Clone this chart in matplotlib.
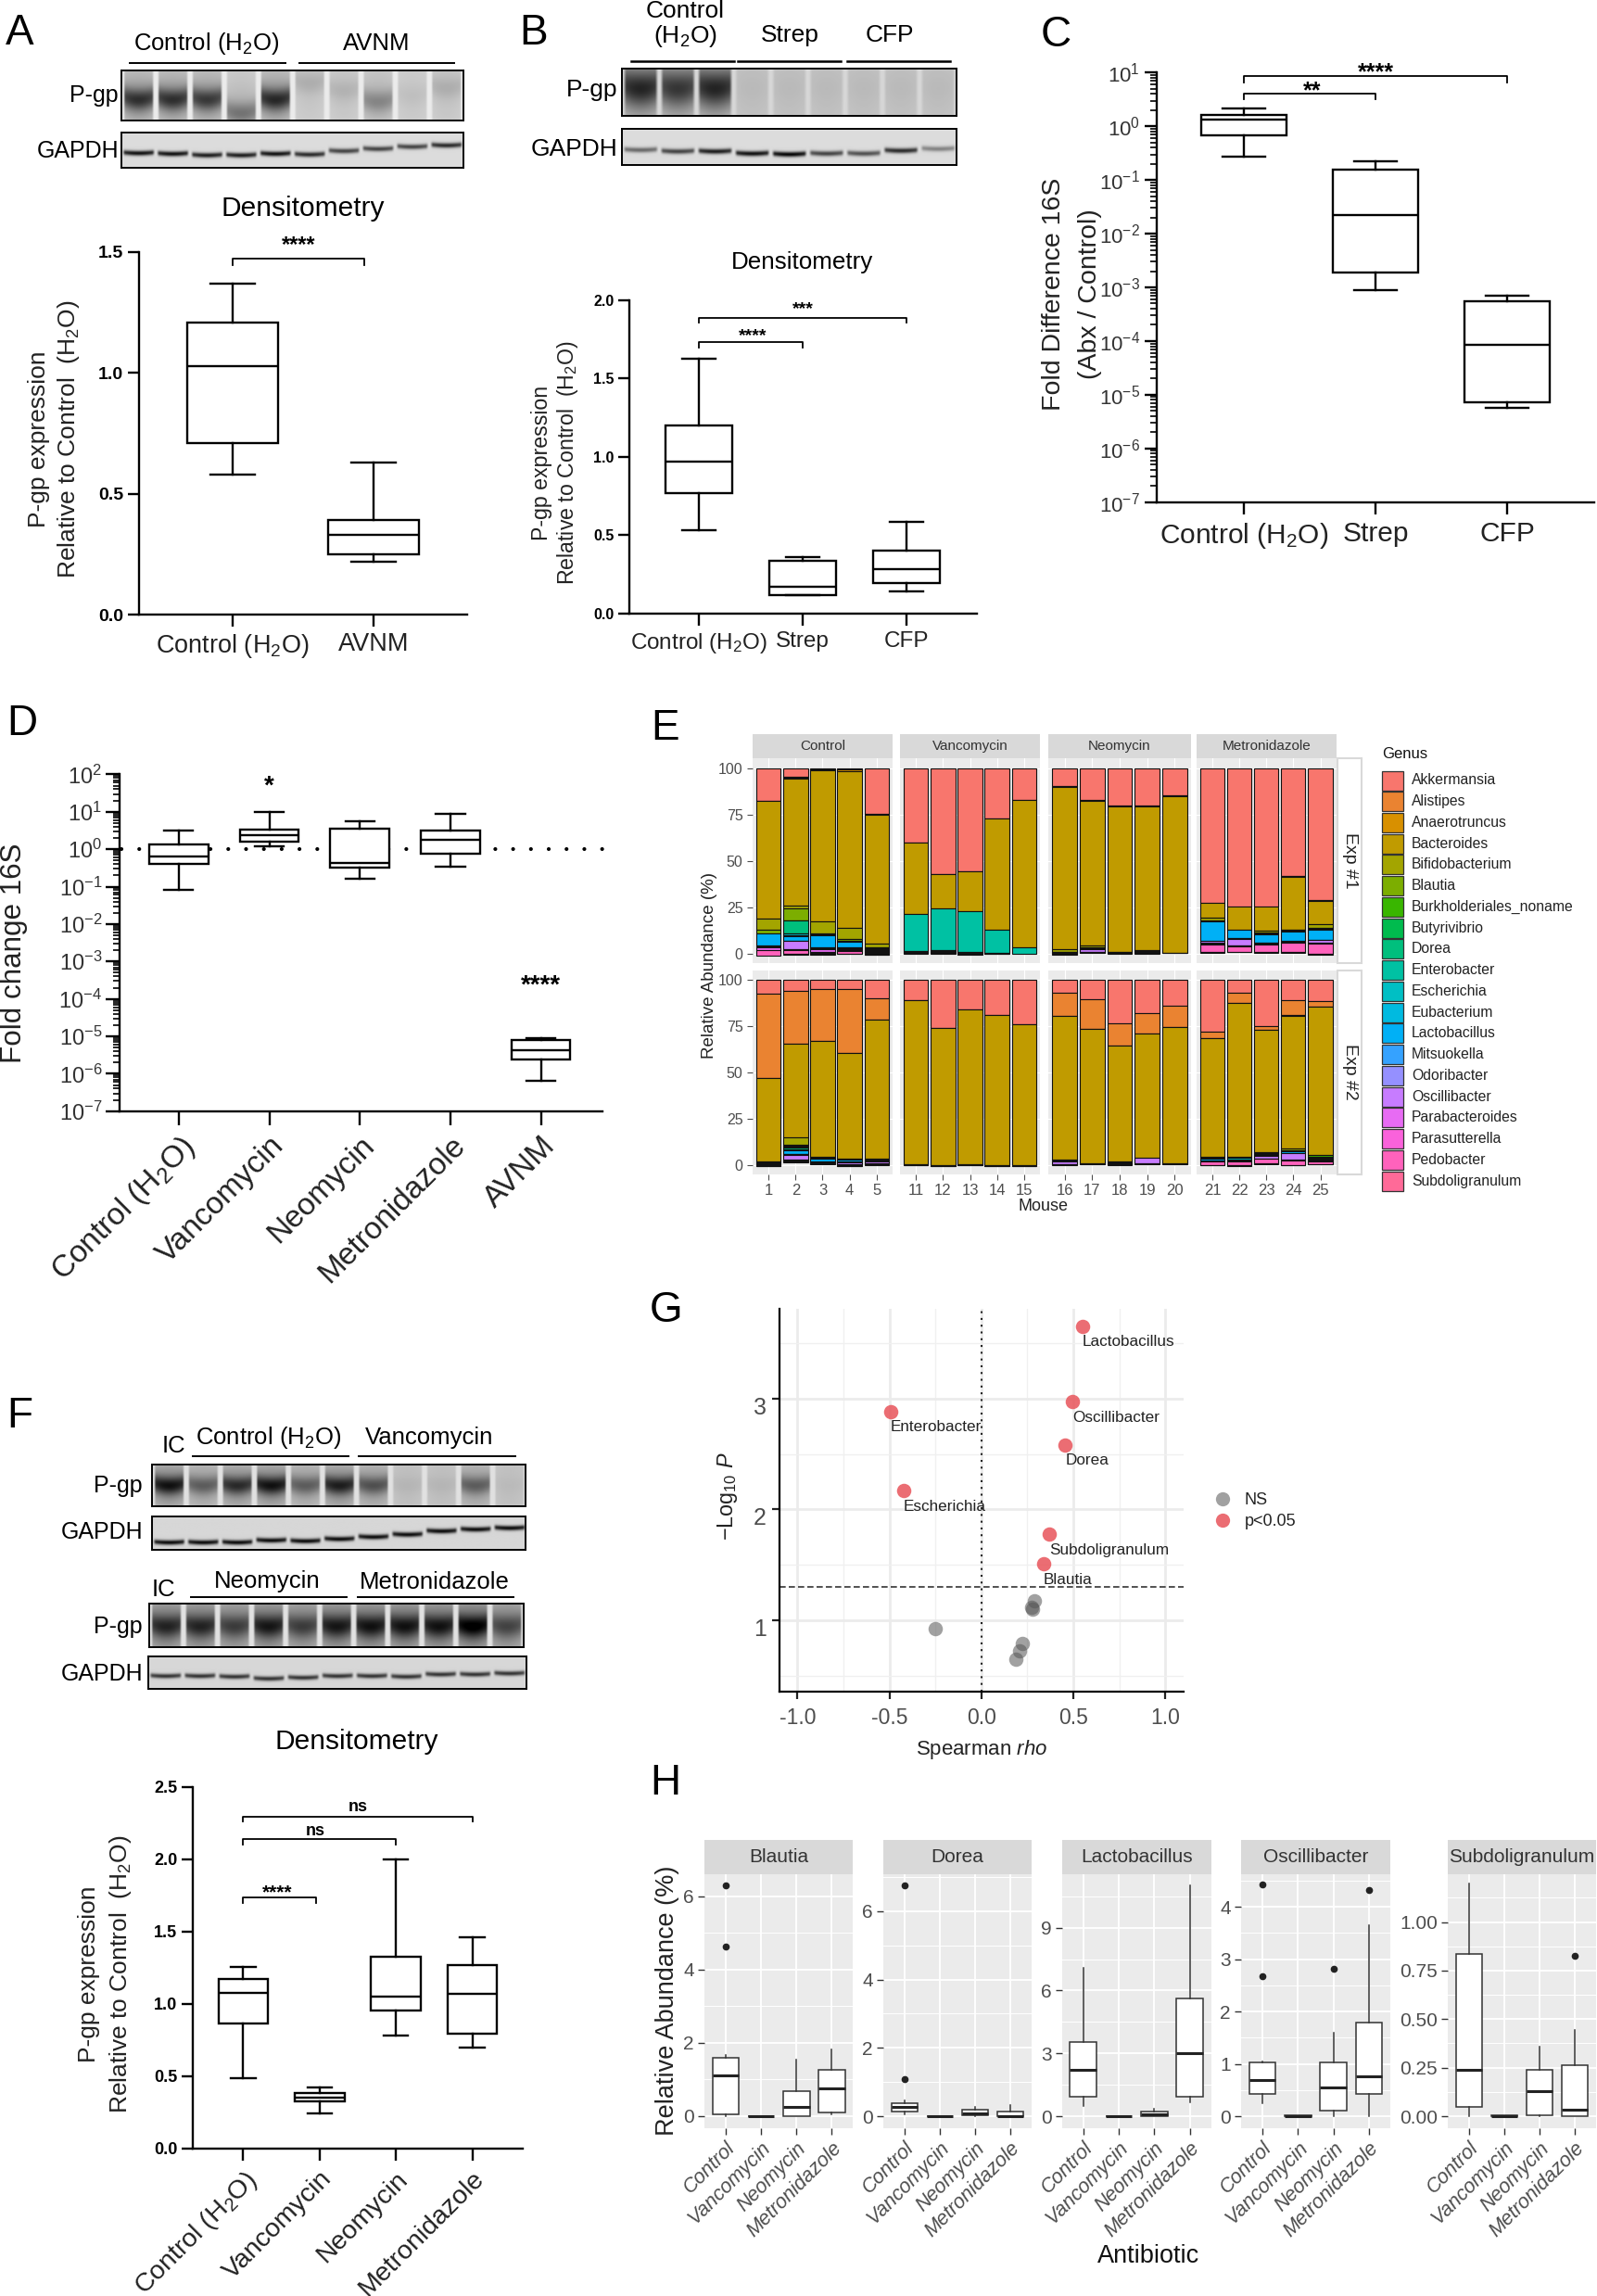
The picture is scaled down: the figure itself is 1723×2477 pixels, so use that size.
import numpy as np
import matplotlib
matplotlib.use("Agg")
import matplotlib.pyplot as plt
from matplotlib.lines import Line2D
from matplotlib.patches import Rectangle
from matplotlib.ticker import LogLocator, NullFormatter, FixedLocator

W, H = 1723, 2477
plt.rcParams['font.family'] = ['Liberation Sans', 'DejaVu Sans']
plt.rcParams['mathtext.fontset'] = 'custom'
plt.rcParams['mathtext.rm'] = 'Liberation Sans'
plt.rcParams['mathtext.it'] = 'Liberation Sans:italic'
plt.rcParams['mathtext.bf'] = 'Liberation Sans:bold'
plt.rcParams['mathtext.default'] = 'regular'

H2O = "Control (H$_2$O)"

# box stats are low whisker, q1, median, q3, high whisker
a_labels = [H2O, "AVNM"]
a_boxes = [[0.58, 0.71, 1.03, 1.21, 1.37], [0.22, 0.25, 0.33, 0.39, 0.63]]
b_labels = [H2O, "Strep", "CFP"]
b_boxes = [[0.53, 0.77, 0.97, 1.20, 1.63], [0.12, 0.12, 0.17, 0.34, 0.36], [0.14, 0.195, 0.285, 0.405, 0.585]]
c_labels = [H2O, "Strep", "CFP"]
c_boxes = [[0.27, 0.667, 1.33, 1.66, 2.14], [8.9e-4, 1.9e-3, 0.022, 0.157, 0.22], [5.6e-6, 7.2e-6, 8.5e-5, 5.4e-4, 7.1e-4]]
d_labels = [H2O, "Vancomycin", "Neomycin", "Metronidazole", "AVNM"]
d_boxes = [[0.083, 0.40, 0.65, 1.34, 3.2], [1.22, 1.55, 2.4, 3.25, 10], [0.159, 0.32, 0.417, 3.57, 5.6],
           [0.347, 0.75, 1.78, 3.1, 8.65], [6.6e-7, 2.45e-6, 4.2e-6, 8.2e-6, 9.1e-6]]
f_labels = [H2O, "Vancomycin", "Neomycin", "Metronidazole"]
f_boxes = [[0.49, 0.868, 1.08, 1.17, 1.256], [0.244, 0.328, 0.352, 0.384, 0.424],
           [0.784, 0.956, 1.052, 1.324, 2.0], [0.696, 0.792, 1.068, 1.272, 1.464]]

# panel E, 20 mice of exp 1 then 20 mice of exp 2
genera = ["Akkermansia", "Alistipes", "Anaerotruncus", "Bacteroides", "Bifidobacterium", "Blautia",
          "Burkholderiales_noname", "Butyrivibrio", "Dorea", "Enterobacter", "Escherichia", "Eubacterium",
          "Lactobacillus", "Mitsuokella", "Odoribacter", "Oscillibacter", "Parabacteroides", "Parasutterella",
          "Pedobacter", "Subdoligranulum"]
genus_colors = ["#F8766D", "#EA8331", "#D89000", "#C09B00", "#A3A500", "#7CAE00", "#39B600", "#00BB4E", "#00BF7D",
                "#00C1A3", "#00BFC4", "#00BAE0", "#00B0F6", "#35A2FF", "#9590FF", "#C77CFF", "#E76BF3", "#FA62DB",
                "#FF62BC", "#FF6A98"]
mouse_ids = [[1, 2, 3, 4, 5], [11, 12, 13, 14, 15], [16, 17, 18, 19, 20], [21, 22, 23, 24, 25]]
treatments = ["Control", "Vancomycin", "Neomycin", "Metronidazole"]
akkermansia = [17.5, 4.5, .5, .5, 24.5, 40, 57, 55.5, 27, 17, 9.5, 17, 20, 20, 14.5, 72.5, 74.5, 74.5, 58, 71,
               7.5, 6, 5, 5, 10, 11, 26, 16, 19, 24, 7, 10.5, 23.5, 18, 14, 28, 7, 25, 11, 11.5]
alistipes = [0, .3, 0, 0, 0, 0, 0, 0, 0, 0, 0, 0, 0, 0, 0, 0, 0, 0, 0, 0,
             45.5, 28.5, 28, 34.5, 11.5, 0, 0, 0, 0, 0, 12.5, 16, 12, 11, 11.5, 3.5, 5.5, 2, 8, 3]
anaerotruncus = [.2, .6, .5, .8, .3, .2, .2, .2, .2, .2, .3, .3, .3, .3, .3, 0, 0, 0, .3, .5,
                 .2, .2, .2, .2, .2, .2, .2, .2, .2, .2, .2, .2, .2, .2, .2, .2, .2, .2, .5, .2]
bacteroides = [63.5, 68.5, 81.5, 84.5, 69.5, 38.5, 18.5, 21.5, 60, 79.5, 87.5, 78, 78.5, 77.5, 84.5, 8, 12.5, 13, 28.5, 12.5,
               45, 50.5, 62.5, 57, 75, 88.5, 74, 83.5, 81, 76, 77.5, 72.5, 62.5, 67, 73.5, 64, 83, 66, 71.5, 80]
bifidobacterium = [6, 1.5, 6.5, 6, 2, 0, 0, 0, 0, 0, 1.5, 1, 0, 0, 0, 1.5, 0, 1, 0, 2,
                   0, 4, .5, .5, .3, 0, 0, 0, 0, 0, 0, 0, 0, 0, 0, 0, .5, 0, 1, 0]
blautia = [2, 6.5, 0, 1, .5, 0, 0, 0, 0, 0, 0, .5, 0, 0, 0, .5, 0, 0, 0, .5,
           0, .5, 0, 0, 0, 0, 0, 0, 0, 0, 0, 0, 0, 0, 0, 0, 0, 0, .3, 0]
burkholderiales = [0, .3, .3, .3, .3, 0, 0, 0, 0, 0, 0, 0, 0, 0, 0, 0, 0, .3, .3, 0,
                   0, .3, 0, 0, 0, 0, 0, 0, 0, 0, 0, 0, 0, 0, 0, 0, 0, .4, 0, .6]
butyrivibrio = [0, 0, .4, 0, .3, 0, 0, 0, 0, 0, 0, 0, 0, 0, 0, 0, 0, .3, .4, 0,
                0, .3, 0, 0, 0, 0, 0, 0, 0, 0, 0, 0, 0, 0, 0, .4, 0, .4, 0, .6]
dorea = [0, 7, 0, 0, 0, 0, 0, 0, 0, 0, 0, 0, 0, 0, 0, 0, 0, 0, 0, 0,
         0, 1, 0, 0, 0, 0, 0, 0, 0, 0, 0, 0, 0, 0, 0, 0, 0, 0, 0, 0]
enterobacter = [0, 0, 0, 0, 0, 20, 22.5, 22, 12.5, 3.5, 0, 0, 0, 0, 0, 0, 0, 0, 0, 0,
                0, 0, 0, 0, 0, 0, 0, 0, 0, 0, 0, 0, 0, 0, 0, 0, 0, 0, 0, 0]
escherichia = [0, .8, 0, 0, 0, 0, 0, 0, 0, 0, 0, 0, 0, 0, 0, 0, 0, 0, 0, .2,
               0, .3, .3, 0, .3, 0, 0, 0, 0, 0, 0, 0, 0, 0, 0, 0, .6, 0, .4, 0]
eubacterium = [0, .4, .4, .4, .3, 0, 0, 0, 0, 0, 0, 0, 0, 0, 0, 0, 0, .3, .3, .2,
               0, .3, 0, 0, 0, 0, 0, 0, 0, 0, 0, 0, 0, 0, 0, .4, 0, .3, 0, .6]
lactobacillus = [6.5, 2.5, 6.5, 3, .5, 0, 0, 0, 0, 0, 0, 0, 0, 0, 0, 10.5, 4.5, 4.5, 5, 5.5,
                 .3, 2, 1.5, 1, .5, 0, 0, 0, 0, 0, 0, 0, 0, 0, 0, 1, .7, .5, 1, .5]
mitsuokella = [0, .3, .3, .3, .3, .3, .5, .3, 0, 0, .3, .3, .3, .5, .2, 0, .3, .2, 0, .3,
               .3, .3, .3, .3, 0, 0, 0, 0, 0, 0, .4, 0, .4, 0, 0, 0, 0, 0, 0, .3]
odoribacter = [.2, 0, .3, .3, .3, .4, .5, .3, 0, 0, .3, .3, .3, .5, 0, 0, 0, .2, 0, 0,
               .3, .4, .3, .2, 0, 0, 0, 0, 0, 0, .3, 0, .4, 0, 0, 0, 0, 0, 0, .3]
oscillibacter = [.5, 4.5, .5, .5, .3, 0, 0, 0, 0, 0, .3, 1.5, 0, 0, 0, 1, 3.5, .3, .5, 1.5,
                 .5, 2.5, .3, 1, 1, 0, 0, 0, 0, 0, 1.5, 0, 0, 3, 0, 0, .3, 1.5, 3.5, 0]
parabacteroides = [1.5, .3, 1.5, .5, .5, 0, 0, 0, 0, 0, .3, .3, 0, 0, 0, .5, .3, .3, .5, .3,
                   .3, .3, 0, .3, .5, 0, 0, 0, 0, 0, 0, 0, 0, 0, 0, 0, 0, 0, 0, 0]
parasutterella = [0, .2, .3, .3, .3, .3, .5, .3, .3, 0, .2, .2, .3, .5, 0, .4, .3, .3, .3, .2,
                  .3, .3, .3, .3, .3, .3, .3, .3, .2, .2, .3, .3, .5, .3, .3, .3, .3, .3, .3, .3]
pedobacter = [3, 2, .5, 1.5, .5, 0, 0, 0, 0, 0, 0, 0, 0, 0, 0, 4, 3, 4, 5, 5.5,
              .3, .3, 0, 0, 0, 0, 0, 0, 0, 0, 0, 0, 0, 0, 0, 2, 2, 2.5, 2.5, 1.5]
subdoligranulum = [0, .3, .3, .2, .3, .2, .3, .3, .2, 0, .2, .2, .3, .5, .2, .5, .3, .2, .2, .2,
                   .2, .3, .3, .3, .3, .2, .2, .2, .2, .2, .3, .2, .5, .2, .2, .2, .2, .2, .2, .2]
genus_values = [akkermansia, alistipes, anaerotruncus, bacteroides, bifidobacterium, blautia, burkholderiales,
                butyrivibrio, dorea, enterobacter, escherichia, eubacterium, lactobacillus, mitsuokella, odoribacter,
                oscillibacter, parabacteroides, parasutterella, pedobacter, subdoligranulum]

# panel G
sig_names = ["Lactobacillus", "Oscillibacter", "Enterobacter", "Dorea", "Escherichia", "Subdoligranulum", "Blautia"]
sig_rho = [0.549, 0.496, -0.493, 0.456, -0.423, 0.371, 0.338]
sig_logp = [3.655, 2.971, 2.885, 2.584, 2.172, 1.779, 1.511]
ns_rho = [0.288, 0.278, 0.275, -0.249, 0.222, 0.209, 0.19]
ns_logp = [1.179, 1.098, 1.113, 0.925, 0.795, 0.726, 0.645]

# panel H, each box is low whisker, q1, median, q3, high whisker
h_groups = ["Control", "Vancomycin", "Neomycin", "Metronidazole"]
h_titles = ["Blautia", "Dorea", "Lactobacillus", "Oscillibacter", "Subdoligranulum"]
blautia_boxes = [[0.0, 0.05, 1.10, 1.60, 1.68], [0, 0, 0, 0.01, 0.01], [0, 0, 0.25, 0.69, 1.54], [0.05, 0.09, 0.77, 1.26, 1.82]]
blautia_out = [[6.29, 4.62], [], [], []]
dorea_boxes = [[0.05, 0.13, 0.27, 0.37, 0.45], [0, 0, 0, 0.01, 0.01], [0, 0.02, 0.09, 0.19, 0.28], [0, 0, 0.01, 0.15, 0.34]]
dorea_out = [[6.75, 1.08], [], [], []]
lacto_boxes = [[0.49, 0.95, 2.22, 3.54, 7.1], [0, 0, 0, 0.02, 0.02], [0, 0.02, 0.11, 0.23, 0.36], [0.69, 0.95, 3.0, 5.63, 11.0]]
lacto_out = [[], [], [], []]
oscilli_boxes = [[0.25, 0.43, 0.69, 1.03, 1.05], [0, 0, 0, 0.01, 0.01], [0, 0.11, 0.54, 1.03, 1.59], [0, 0.43, 0.77, 1.79, 3.64]]
oscilli_out = [[4.42, 2.68], [], [2.82], [4.32]]
subdo_boxes = [[0, 0.05, 0.24, 0.837, 1.198], [0, 0, 0, 0.004, 0.004], [0, 0.005, 0.127, 0.237, 0.358], [0, 0, 0.035, 0.265, 0.446]]
subdo_out = [[], [], [], [0.828]]
h_boxes = [blautia_boxes, dorea_boxes, lacto_boxes, oscilli_boxes, subdo_boxes]
h_out = [blautia_out, dorea_out, lacto_out, oscilli_out, subdo_out]
h_ticks = [[0, 2, 4, 6], [0, 2, 4, 6], [0, 3, 6, 9], [0, 1, 2, 3, 4], [0, 0.25, 0.5, 0.75, 1.0]]
h_ticklabels = [["0", "2", "4", "6"], ["0", "2", "4", "6"], ["0", "3", "6", "9"], ["0", "1", "2", "3", "4"],
                ["0.00", "0.25", "0.50", "0.75", "1.00"]]

# band strength per lane on the blots
a_pgp = [.62, .62, .58, .35, .65, .12, .1, .28, .05, .12]
a_pgp_y = [.58, .58, .58, .85, .58, .25, .4, .62, .5, .35]
a_gapdh = [.8, .8, .75, .75, .8, .7, .6, .6, .6, .7]
a_gapdh_y = [.58, .6, .64, .64, .6, .62, .52, .46, .4, .36]
b_pgp = [.62, .55, .62, .03, .03, .03, .03, .03, .03]
b_gapdh = [.45, .6, .75, .8, .85, .6, .55, .7, .35]
b_gapdh_y = [.58, .62, .62, .68, .7, .68, .68, .6, .55]
f1_pgp = [.7, .4, .6, .7, .4, .65, .45, .05, .05, .4, .03]
f1_gapdh_y = [.78, .78, .78, .72, .74, .68, .62, .55, .45, .4, .36]
f2_pgp = [.55, .55, .45, .6, .45, .6, .62, .62, .62, .72, .42]
f2_gapdh_y = [.6, .6, .62, .68, .65, .6, .6, .62, .55, .55, .52]


fig = plt.figure(figsize=(W / 100, H / 100), dpi=100, facecolor='white')


def add_ax(l, t, r, b):
    return fig.add_axes([l / W, 1 - b / H, (r - l) / W, (b - t) / H])


def ptext(x, y, s, size=18, ha='center', va='center', **kw):
    return fig.text(x / W, 1 - y / H, s, fontsize=size, ha=ha, va=va, **kw)


def pline(x0, x1, y, lw=1.4):
    fig.add_artist(Line2D([x0 / W, x1 / W], [1 - y / H, 1 - y / H], color='black', lw=lw))


def make_stats(rows, fliers=None):
    stats = []
    for i, r in enumerate(rows):
        stats.append(dict(whislo=r[0], q1=r[1], med=r[2], q3=r[3], whishi=r[4],
                          fliers=[] if fliers is None else fliers[i]))
    return stats


def prism_box(rect, boxes, labels, c0, step, ylim, yticks=None, ytickfmt=None, log=False, tick_size=14,
              label_size=19, rotate=False, tick_len=9, weight='bold'):
    l, t, r, b = rect
    ax = add_ax(l, t, r, b)
    ax.patch.set_alpha(0)
    if log:
        ax.set_yscale('log')
    pos = np.arange(1, len(boxes) + 1)
    ax.bxp(make_stats(boxes), positions=pos, widths=0.65, capwidths=0.32, showfliers=False, patch_artist=True,
           manage_ticks=False, zorder=3,
           boxprops=dict(facecolor='white', edgecolor='black', linewidth=1.7),
           medianprops=dict(color='black', linewidth=1.7),
           whiskerprops=dict(color='black', linewidth=1.7),
           capprops=dict(color='black', linewidth=1.7))
    ax.set_xlim(1 + (l - c0) / step, 1 + (r - c0) / step)
    ax.set_ylim(*ylim)
    for s in ['top', 'right']:
        ax.spines[s].set_visible(False)
    for s in ['left', 'bottom']:
        ax.spines[s].set_linewidth(1.7)
    ax.set_xticks(pos)
    if rotate:
        ax.set_xticklabels(labels, rotation=45, ha='right', rotation_mode='anchor', fontsize=label_size, color='#222222')
    else:
        ax.set_xticklabels(labels, fontsize=label_size, color='#222222')
    ax.tick_params(axis='x', length=tick_len, width=1.7, pad=5)
    ax.tick_params(axis='y', which='major', length=tick_len, width=1.7, pad=3)
    if log:
        exps = range(int(np.log10(ylim[0])), int(np.log10(ylim[1])) + 1)
        ax.yaxis.set_major_locator(FixedLocator([10.0 ** e for e in exps]))
        ax.set_yticklabels(["10$^{%d}$" % e for e in exps], fontsize=tick_size, color='#333333')
        ax.yaxis.set_minor_locator(LogLocator(base=10, subs=range(2, 10), numticks=20))
        ax.yaxis.set_minor_formatter(NullFormatter())
        ax.tick_params(axis='y', which='minor', length=tick_len * 0.5, width=1.2)
    else:
        ax.set_yticks(yticks)
        ax.set_yticklabels([ytickfmt % v for v in yticks], fontsize=tick_size, fontweight=weight)
    return ax


def bracket(ax, x0, x1, y, tip, text, text_y, size=17, text_x=None, weight='bold'):
    ax.plot([x0, x0, x1, x1], [tip, y, y, tip], color='black', lw=1.3, clip_on=False, zorder=4)
    mid = (x0 + x1) / 2 if text_x is None else text_x
    star_drop = 0.4 * size if '*' in text else 0.3 * size
    ax.annotate(text, (mid, text_y), xytext=(0, -star_drop), textcoords='offset points', ha='center',
                va='baseline', fontsize=size, fontweight=weight, annotation_clip=False)


def blot(rect, strengths, bands, sigma=0.2, shade=0.12, gap=0.1, base=0.92, edge=0.06, wide=0.3, smile=0.08):
    l, t, r, b = rect
    ax = add_ax(l, t, r, b)
    n = len(strengths)
    w, h = int(r - l) * 2, int(b - t) * 2
    yy, xx = np.mgrid[0:h, 0:w]
    u = xx / w * n
    v = yy / h
    lane = np.minimum(u.astype(int), n - 1)
    frac = u - lane
    side = (2 * frac - 1) ** 2
    prof = np.clip((np.minimum(frac, 1 - frac) - gap / 2) / edge, 0, 1) * (1 - 0.2 * side)
    s = np.array(strengths)[lane]
    c = np.array(bands)[lane] - smile * side
    main = np.exp(-(v - c) ** 2 / (2 * sigma ** 2))
    smear = np.exp(-(v - c) ** 2 / (2 * 0.42 ** 2))
    img = base - prof * (shade + s * ((1 - wide) * main + wide * smear))
    ax.imshow(img, cmap='gray', vmin=0, vmax=1, aspect='auto', interpolation='bilinear')
    ax.set_xticks([])
    ax.set_yticks([])
    for sp in ax.spines.values():
        sp.set_linewidth(1.4)
    return ax


def gapdh(rect, strengths, bands, base=0.86):
    return blot(rect, strengths, bands, sigma=0.05, shade=0, gap=0.04, base=base, edge=0.08, wide=0, smile=0.03)


def y2label(x0, x1, yc, size):
    ptext(x0, yc, "P-gp expression", size=size, rotation=90, color='#222222')
    ptext(x1, yc, "Relative to Control  (H$_2$O)", size=size, rotation=90, color='#222222')


# panel letters
for letter, x, y in [("A", 21, 36), ("B", 576, 36), ("C", 1139, 38), ("D", 24, 781), ("E", 718, 786),
                     ("F", 21, 1528), ("G", 719, 1414), ("H", 718, 1924)]:
    ptext(x, y, letter, size=33)

# A
ptext(223, 47, H2O, size=18.5)
ptext(406, 47, "AVNM", size=18.5)
pline(140, 308, 68)
pline(323, 490, 68)
blot((131, 76, 500, 130), a_pgp, a_pgp_y, sigma=0.15, gap=0.1)
gapdh((131, 143, 500, 181), a_gapdh, a_gapdh_y)
ptext(128, 103, "P-gp", size=18, ha='right')
ptext(128, 163, "GAPDH", size=18, ha='right')
ptext(327, 225, "Densitometry", size=21.5)
ax = prism_box((150, 272, 504, 663), a_boxes, a_labels, 251, 152, (0, 1.5), [0, .5, 1, 1.5], "%.1f", label_size=19.5)
bracket(ax, 1, 1.935, 1.472, 1.447, "****", 1.54)
y2label(42, 74, 474, 19)

# B
ptext(739, 12, "Control", size=19)
ptext(739, 39, "(H$_2$O)", size=19)
ptext(852, 38, "Strep", size=19)
ptext(960, 38, "CFP", size=19)
pline(681, 792, 66, 1.8)
pline(796, 907, 66, 1.8)
pline(914, 1025, 66, 1.8)
blot((671, 74, 1032, 125), b_pgp, [.42] * 9, sigma=0.24, shade=0.08, gap=0.06, base=0.84, edge=0.08, wide=0.5)
gapdh((671, 139, 1032, 178), b_gapdh, b_gapdh_y)
ptext(666, 97, "P-gp", size=19, ha='right')
ptext(666, 161, "GAPDH", size=19, ha='right')
ptext(866, 283, "Densitometry", size=18.7)
ax = prism_box((679, 324, 1054, 662), b_boxes, b_labels, 754, 112, (0, 2), [0, .5, 1, 1.5, 2], "%.1f", tick_size=11.5, label_size=17.5)
bracket(ax, 1, 3, 1.888, 1.858, "***", 1.96, size=14)
bracket(ax, 1, 2, 1.733, 1.70, "****", 1.79, size=14, text_x=1.52)
y2label(585, 613, 499, 16.7)

# C
ax = prism_box((1247.5, 78.4, 1720, 541.6), c_boxes, c_labels, 1342, 142, (1e-7, 10), log=True, tick_size=16,
               label_size=21.5, tick_len=9.5)
bracket(ax, 1, 3, 8.5, 6.5, "****", 11.5, size=18)
bracket(ax, 1, 2, 4.14, 3.2, "**", 5.2, size=18, text_x=1.52)
ptext(1137, 317, "Fold Difference 16S", size=20.5, rotation=90, color='#222222')
ptext(1176, 317, "(Abx / Control)", size=20.5, rotation=90, color='#222222')

# D
ax = prism_box((129, 835.4, 650, 1198.8), d_boxes, d_labels, 192.8, 97.7, (1e-7, 100), log=True, tick_size=17,
               label_size=24, rotate=True, tick_len=10.5)
dots, = ax.plot([0.37, 5.7], [1, 1], color='black', lw=3, ls=(0, (0.01, 4.6)), zorder=1, clip_on=False)
dots.set_dash_capstyle('round')
ax.annotate("*", (2, 10 ** 1.77), xytext=(0, -8), textcoords='offset points', ha='center', va='baseline',
            fontsize=20, fontweight='bold')
ax.annotate("****", (5, 10 ** -3.55), xytext=(0, -8), textcoords='offset points', ha='center', va='baseline',
            fontsize=20, fontweight='bold')
ptext(15, 1028, "Fold change 16S", size=22.6, rotation=90, color='#222222')

# E
e_cols = [(812, 963), (971, 1122), (1131, 1285), (1290.5, 1442)]
e_rows = [(818, 1039), (1046.5, 1266.5)]
e_ylims = [(-5, 105.5), (-4.75, 105.25)]
for i, (l, r) in enumerate(e_cols):
    st = add_ax(l, 792, r, 817.6)
    st.set_facecolor('#D9D9D9')
    st.set_xticks([])
    st.set_yticks([])
    for sp in st.spines.values():
        sp.set_visible(False)
    st.text(0.5, 0.5, treatments[i], transform=st.transAxes, ha='center', va='center', fontsize=11, color='#333333')
    for k, (t, b) in enumerate(e_rows):
        ax = add_ax(l, t, r, b)
        ax.set_facecolor('#EBEBEB')
        for sp in ax.spines.values():
            sp.set_visible(False)
        ax.set_axisbelow(True)
        ax.grid(True, color='white', lw=0.8)
        x = np.arange(1, 6)
        start = k * 20 + i * 5
        top = np.full(5, 100.0)
        for name_i, vals in enumerate(genus_values):
            v = np.array(vals[start:start + 5], dtype=float)
            keep = v > 0
            top = top - v
            ax.bar(x[keep], v[keep], bottom=top[keep], width=0.9, color=genus_colors[name_i], edgecolor='#111111', lw=0.8)
        ax.set_xlim(0.4, 5.6)
        ax.set_ylim(*e_ylims[k])
        ax.set_yticks([0, 25, 50, 75, 100])
        ax.set_xticks(x)
        ax.tick_params(colors='#4D4D4D', length=4, width=0.8, labelsize=11.5)
        if k == 1:
            ax.set_xticklabels([str(m) for m in mouse_ids[i]], fontsize=12)
        else:
            ax.tick_params(axis='x', length=0, labelbottom=False)
        if i > 0:
            ax.tick_params(axis='y', length=0, labelleft=False)
for (t, b), label in zip(e_rows, ["Exp #1", "Exp #2"]):
    fig.add_artist(Rectangle((1443 / W, 1 - b / H), 26 / W, (b - t) / H, transform=fig.transFigure, facecolor='white',
                             edgecolor='#D9D9D9', lw=1.5))
    ptext(1456, (t + b) / 2, label, size=14, rotation=-90, color='#222222')
ptext(765, 1042, "Relative Abundance (%)", size=13.5, rotation=90, color='#222222')
ptext(1126, 1301, "Mouse", size=13, color='#222222')
ptext(1491, 813, "Genus", size=12, ha='left', color='#111111')
for i, name in enumerate(genera):
    yc = 842 + i * 22.74
    fig.add_artist(Rectangle((1491 / W, 1 - (yc + 10.5) / H), 23 / W, 21 / H, transform=fig.transFigure,
                             facecolor=genus_colors[i], edgecolor='#333333', lw=0.9))
    ptext(1523, yc, name, size=11.3, ha='left', color='#222222')

# F
ptext(187, 1560, "IC", size=18.5)
ptext(290, 1551, H2O, size=18.5)
ptext(463, 1551, "Vancomycin", size=18.5)
pline(208, 376, 1571)
pline(387, 556, 1571)
blot((163.5, 1580, 567, 1625), f1_pgp, [.5] * 11, sigma=0.15, gap=0.1, base=0.88)
gapdh((163.5, 1636, 567, 1672), [.8] * 11, f1_gapdh_y, base=0.84)
ptext(154, 1603, "P-gp", size=18, ha='right')
ptext(154, 1653, "GAPDH", size=18, ha='right')
ptext(176.5, 1715, "IC", size=18.5)
ptext(288, 1706.5, "Neomycin", size=18.5)
ptext(469, 1706.5, "Metronidazole", size=18.5)
pline(206, 374, 1723)
pline(386, 554, 1723)
blot((161, 1730, 565, 1777), f2_pgp, [.52] * 11, sigma=0.18, shade=0.2, gap=0.1, base=0.88)
gapdh((160, 1787, 568, 1822), [.65] * 11, f2_gapdh_y, base=0.84)
ptext(154, 1755, "P-gp", size=18, ha='right')
ptext(154, 1806, "GAPDH", size=18, ha='right')
ptext(385, 1879, "Densitometry", size=21.5)
ax = prism_box((208, 1928, 564, 2318), f_boxes, f_labels, 262.4, 82.4, (0, 2.5), [0, .5, 1, 1.5, 2, 2.5], "%.1f",
               tick_size=13, label_size=20.5, rotate=True, tick_len=9)
bracket(ax, 1, 4, 2.292, 2.26, "ns", 2.365, size=13)
bracket(ax, 1, 3, 2.144, 2.104, "ns", 2.204, size=13, text_x=1.95)
bracket(ax, 1, 1.95, 1.736, 1.696, "****", 1.79, size=15, text_x=1.45)
y2label(96, 130, 2130, 19)

# G
ax = add_ax(840.5, 1412, 1277, 1825)
ax.set_xlim(-1.10, 1.10)
ax.set_ylim(0.356, 3.81)
for s in ['top', 'right']:
    ax.spines[s].set_visible(False)
for s in ['left', 'bottom']:
    ax.spines[s].set_linewidth(1.6)
ax.set_axisbelow(True)
ax.set_xticks([-1, -.5, 0, .5, 1])
ax.set_xticklabels(["-1.0", "-0.5", "0.0", "0.5", "1.0"], fontsize=16.5, color='#4D4D4D')
ax.set_yticks([1, 2, 3])
ax.set_yticklabels([])
# the reference has these labels sitting a little under their ticks
for v in [1, 2, 3]:
    ax.annotate(str(v), (-1.10, v), xytext=(-10, -7), textcoords='offset points', ha='right', va='center',
                fontsize=18, color='#4D4D4D', annotation_clip=False)
ax.set_xticks([-.75, -.25, .25, .75], minor=True)
ax.set_yticks([.5, 1.5, 2.5, 3.5], minor=True)
ax.grid(True, which='major', color='#EBEBEB', lw=2)
ax.grid(True, which='minor', color='#F0F0F0', lw=1)
ax.tick_params(which='minor', length=0)
ax.tick_params(which='major', length=6, width=1.6, color='#222222', pad=6)
ax.axvline(0, color='#222222', lw=1.5, ls=(0, (1, 2.5)))
ax.axhline(1.3, color='#333333', lw=1.2, ls=(0, (4, 2)))
ax.scatter(ns_rho, ns_logp, s=125, color='#555555', alpha=0.55, linewidths=0, zorder=3)
ax.scatter(sig_rho, sig_logp, s=125, color='#E8545A', alpha=0.85, linewidths=0, zorder=3)
for name, rx, py in zip(sig_names, sig_rho, sig_logp):
    ax.annotate(name, (rx, py), xytext=(0, -12.5), textcoords='offset points', ha='left', va='center', fontsize=12.3,
                color='#222222', annotation_clip=False)
ptext(1059, 1887, "Spearman $\\mathit{rho}$", size=16, color='#222222')
ptext(785, 1614, "$-$Log$_{10}$ $\\mathbf{\\mathit{P}}$", size=16.8, rotation=90, color='#222222')
handles = [Line2D([], [], marker='o', ls='', ms=11, mew=0, color='#555555', alpha=0.55, label="NS"),
           Line2D([], [], marker='o', ls='', ms=11, mew=0, color='#E8545A', alpha=0.85, label="p<0.05")]
fig.legend(handles=handles, loc='upper left', bbox_to_anchor=(1292 / W, 1 - 1601 / H), frameon=False, fontsize=13,
           handletextpad=0.3, labelspacing=0.35, borderpad=0, labelcolor='#222222')

# H
h_rects = [(760, 920.4), (953, 1113), (1145.5, 1306.7), (1339, 1500), (1562, 1722)]
h_ylims = [(-0.33, 6.6), (-0.35, 7.08), (-0.57, 11.55), (-0.23, 4.62), (-0.062, 1.246)]
for i, (l, r) in enumerate(h_rects):
    st = add_ax(l, 1985, r, 2021.6)
    st.set_facecolor('#D9D9D9')
    st.set_xticks([])
    st.set_yticks([])
    for sp in st.spines.values():
        sp.set_visible(False)
    st.text(0.5, 0.5, h_titles[i], transform=st.transAxes, ha='center', va='center', fontsize=15, color='#333333',
            clip_on=False)
    ax = add_ax(l, 2022, r, 2296)
    ax.set_facecolor('#EBEBEB')
    for sp in ax.spines.values():
        sp.set_visible(False)
    ax.set_axisbelow(True)
    pos = np.arange(1, 5)
    ax.bxp(make_stats(h_boxes[i], h_out[i]), positions=pos, widths=0.75, showcaps=False, patch_artist=True,
           manage_ticks=False,
           boxprops=dict(facecolor='white', edgecolor='#333333', linewidth=1.1),
           medianprops=dict(color='#222222', linewidth=2.2),
           whiskerprops=dict(color='#333333', linewidth=1.1),
           flierprops=dict(marker='o', markerfacecolor='#222222', markeredgecolor='#222222', markersize=4.5))
    ax.set_xlim(0.4, 4.6)
    ax.set_ylim(*h_ylims[i])
    ax.set_yticks(h_ticks[i])
    ax.set_yticklabels(h_ticklabels[i], fontsize=15, color='#4D4D4D')
    mid = [(h_ticks[i][j] + h_ticks[i][j + 1]) / 2 for j in range(len(h_ticks[i]) - 1)]
    mid.append(h_ticks[i][-1] + (h_ticks[i][1] - h_ticks[i][0]) / 2)
    ax.set_yticks([m for m in mid if m < h_ylims[i][1]], minor=True)
    ax.grid(True, which='major', color='white', lw=1.3)
    ax.grid(True, which='minor', axis='y', color='white', lw=0.7)
    ax.set_xticks(pos)
    ax.set_xticklabels(h_groups, rotation=45, ha='right', rotation_mode='anchor', fontsize=15.5, style='italic',
                       color='#4D4D4D')
    ax.tick_params(which='minor', length=0)
    ax.tick_params(which='major', length=5, width=1, color='#333333', pad=3)
ptext(720, 2158, "Relative Abundance (%)", size=19.5, rotation=90, color='#222222')
ptext(1239, 2434, "Antibiotic", size=19.5, color='#111111')

fig.savefig("out.png", dpi=100)
